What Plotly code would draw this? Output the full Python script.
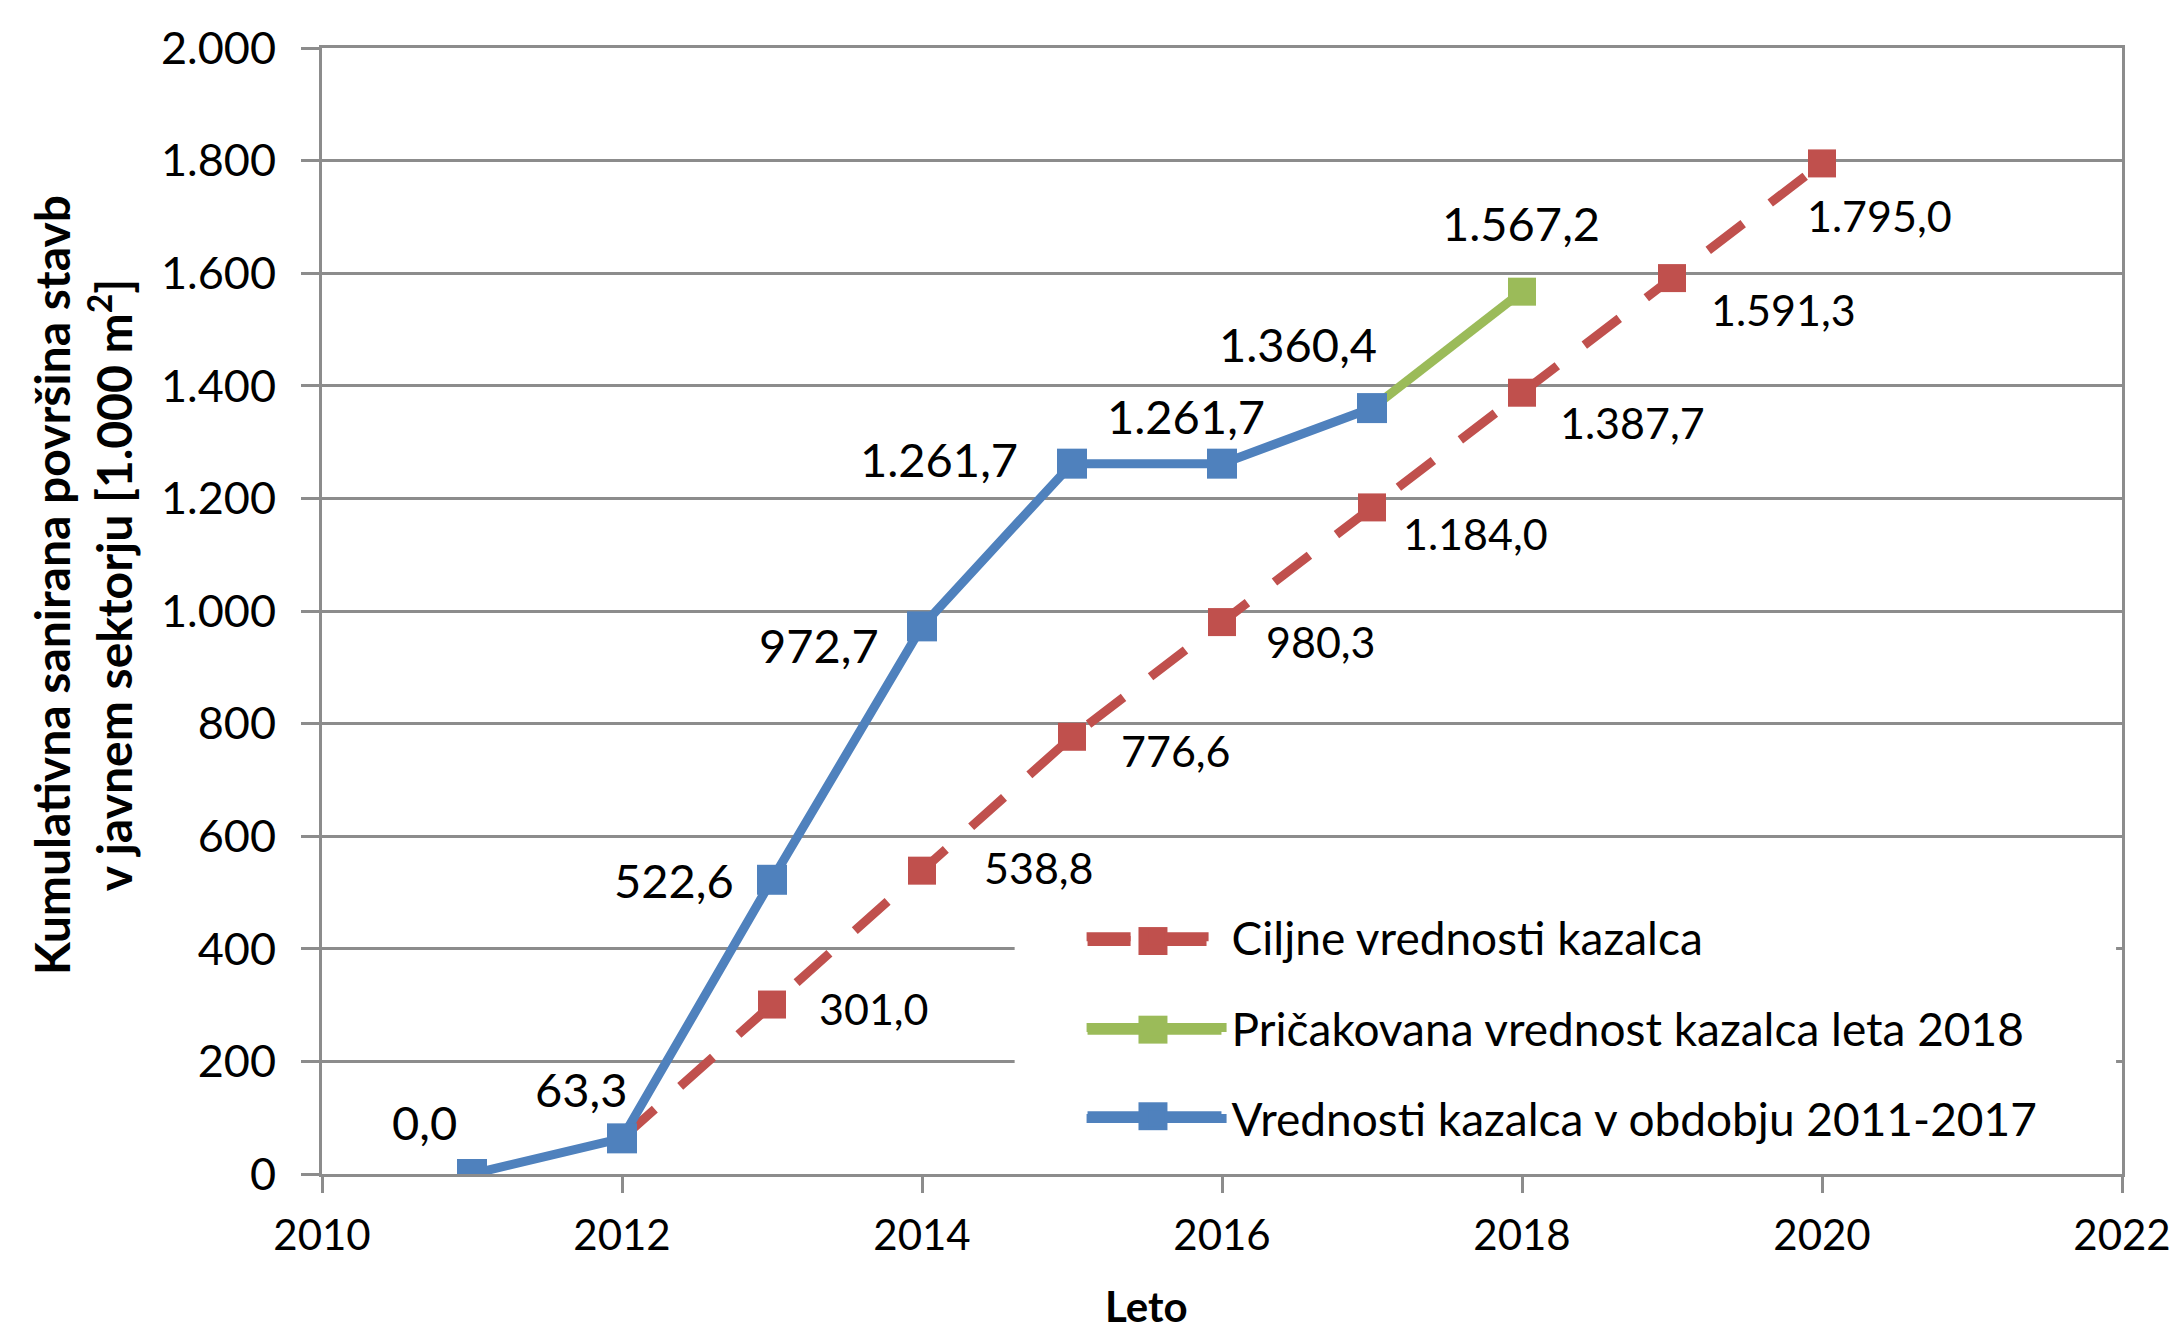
import plotly.graph_objects as go

# ---- data ----
years_actual = [2011, 2012, 2013, 2014, 2015, 2016, 2017]
values_actual = [0.0, 63.3, 522.6, 972.7, 1261.7, 1261.7, 1360.4]

years_expected = [2017, 2018]
values_expected = [1360.4, 1567.2]

years_target = [2012, 2013, 2014, 2015, 2016, 2017, 2018, 2019, 2020]
values_target = [63.3, 301.0, 538.8, 776.6, 980.3, 1184.0, 1387.7, 1591.3, 1795.0]

name_target = "Ciljne vrednosti kazalca"
name_expected = "Pričakovana vrednost kazalca leta 2018"
name_actual = "Vrednosti kazalca v obdobju 2011-2017"

y_title = "Kumulativna sanirana površina stavb<br>v javnem sektorju [1.000 m<sup>2</sup>]"
x_title = "Leto"

# ---- label offsets (pixels) ----
off_actual = [(-48, 52), (-41, 49), (-98, 0), (-103, -19), (-133, 5), (-36, 48), (-74, 64)]
off_expected = [(-1, 69)]
off_target = [None, (102, -4), (117, 3), (104, -14), (99, -19), (103, -26), (110, -30), (111, -31), (57, -52)]

BLUE = "#4F81BD"
RED = "#C0504D"
GREEN = "#9BBB59"
GRID = "#8C8C8C"
FONT = "Lato"
LW = 9


def fmt(v):
    s = f"{v:,.1f}"
    return s.replace(",", "X").replace(".", ",").replace("X", ".")


fig = go.Figure()
fig.add_trace(go.Scatter(
    x=years_target, y=values_target, name=name_target, mode="lines+markers",
    line=dict(color=RED, width=LW, dash="44px,34px"),
    marker=dict(symbol="square", size=28, color=RED),
    legendgroup="a",
))
fig.add_trace(go.Scatter(
    x=years_expected, y=values_expected, name=name_expected, mode="lines+markers",
    line=dict(color=GREEN, width=LW),
    marker=dict(symbol="square", size=28, color=GREEN),
    legendgroup="b",
))
fig.add_trace(go.Scatter(
    x=years_actual, y=values_actual, name=name_actual, mode="lines+markers",
    line=dict(color=BLUE, width=LW),
    marker=dict(symbol="square", size=30, color=BLUE),
    legendgroup="c",
))

annotations = []


def add_labels(xs, ys, offs, size):
    for xv, yv, o in zip(xs, ys, offs):
        if o is None:
            continue
        annotations.append(dict(
            x=xv, y=yv, xref="x", yref="y", text=fmt(yv), showarrow=False,
            xshift=o[0], yshift=o[1], xanchor="center", yanchor="middle",
            font=dict(family=FONT, size=size, color="black"),
        ))


add_labels(years_target, values_target, off_target, 43)
add_labels(years_actual, values_actual, off_actual, 47)
add_labels(years_expected[1:], values_expected[1:], off_expected, 47)

annotations.append(dict(
    x=0, y=0.5, xref="paper", yref="paper", text=y_title, showarrow=False,
    textangle=-90, xanchor="center", yanchor="middle", xshift=-240, yshift=26,
    font=dict(family=FONT, size=48, color="black", weight="bold"),
))
annotations.append(dict(
    x=0.5, y=0, xref="paper", yref="paper", text=x_title, showarrow=False,
    xanchor="center", yanchor="middle", xshift=-76, yshift=-132,
    font=dict(family=FONT, size=42, color="black", weight="bold"),
))

# ---- legend box and enlarged legend keys (paper coordinates) ----
shapes = [
    dict(type="rect", xref="paper", yref="paper", x0=0.3848, x1=0.9967, y0=0.012, y1=0.262,
         fillcolor="white", line=dict(width=0), layer="above"),
]
key_rows = [(0.2069, RED), (0.1282, GREEN), (0.0513, BLUE)]
for i, (ky, col) in enumerate(key_rows):
    if i == 0:
        segs = [(0.4253, 0.4492), (0.4653, 0.4914)]
    else:
        segs = [(0.4253, 0.4997)]
    for a, b in segs:
        shapes.append(dict(type="line", xref="paper", yref="paper", x0=a, x1=b, y0=ky, y1=ky,
                           line=dict(color=col, width=10), layer="above"))
    shapes.append(dict(type="rect", xref="paper", yref="paper", x0=0.4536, x1=0.4697,
                       y0=ky - 0.0124, y1=ky + 0.0124, fillcolor=col, line=dict(width=0),
                       layer="above"))

fig.update_layout(
    width=2175, height=1322,
    margin=dict(l=314, r=60, t=31, b=156),
    paper_bgcolor="white", plot_bgcolor="white",
    separators=",.",
    font=dict(family=FONT, color="black"),
    annotations=annotations,
    shapes=shapes,
    showlegend=True,
    legend=dict(
        x=(1082 - 322) / 1801, y=0.243, xanchor="left", yanchor="top",
        bgcolor="rgba(0,0,0,0)", borderwidth=0,
        font=dict(family=FONT, size=46, color="black"),
        tracegroupgap=28, itemwidth=140,
        traceorder="grouped",
    ),
)
fig.update_xaxes(
    range=[2010, 2022], dtick=2, tick0=2010, tickformat="d",
    showgrid=False, zeroline=False,
    showline=True, linecolor=GRID, linewidth=3, mirror=True,
    ticks="outside", ticklen=16, tickwidth=3, tickcolor=GRID,
    tickfont=dict(family=FONT, size=42, color="black"),
    ticklabelstandoff=7,
)
fig.update_yaxes(
    range=[0, 2000], dtick=200, tick0=0, tickformat=",d",
    showgrid=True, gridcolor=GRID, gridwidth=3, zeroline=False,
    showline=True, linecolor=GRID, linewidth=3, mirror=True,
    ticks="outside", ticklen=18, tickwidth=3, tickcolor=GRID,
    tickfont=dict(family=FONT, size=45, color="black"),
    ticklabelstandoff=16,
)

fig.write_html("out.html")
